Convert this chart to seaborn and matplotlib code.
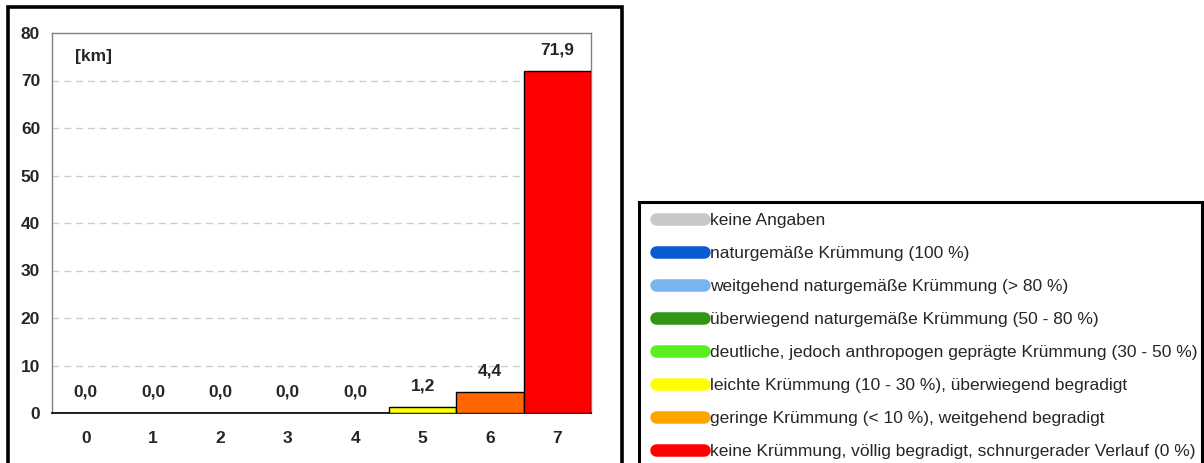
import matplotlib
matplotlib.use("Agg")
import matplotlib.pyplot as plt
import seaborn as sns
import pandas as pd
from matplotlib.lines import Line2D
from matplotlib.patches import Rectangle

# ---- data ----
categories = ["0", "1", "2", "3", "4", "5", "6", "7"]
values = [0.0, 0.0, 0.0, 0.0, 0.0, 1.2, 4.4, 71.9]
value_labels = ["0,0", "0,0", "0,0", "0,0", "0,0", "1,2", "4,4", "71,9"]
bar_colors = ["#C8C8C8", "#0A5AD2", "#78B4F0", "#329614", "#5AF01E", "#FFFF00", "#FF6600", "#FF0000"]
legend_labels = [
    "keine Angaben",
    "naturgemäße Krümmung (100 %)",
    "weitgehend naturgemäße Krümmung (> 80 %)",
    "überwiegend naturgemäße Krümmung (50 - 80 %)",
    "deutliche, jedoch anthropogen geprägte Krümmung (30 - 50 %)",
    "leichte Krümmung (10 - 30 %), überwiegend begradigt",
    "geringe Krümmung (< 10 %), weitgehend begradigt",
    "keine Krümmung, völlig begradigt, schnurgerader Verlauf (0 %)",
]
legend_colors = ["#C8C8C8", "#0A5AD2", "#78B4F0", "#329614", "#5AF01E", "#FFFF00", "#FFA500", "#FF0000"]
y_ticks = [0, 10, 20, 30, 40, 50, 60, 70, 80]
unit_label = "[km]"

df = pd.DataFrame({"cat": categories, "val": values})

sns.set_style("white")
plt.rcParams["font.family"] = ["Liberation Sans", "DejaVu Sans"]

W, H = 1204, 463
fig = plt.figure(figsize=(W / 100, H / 100), dpi=100)

def fx(px):
    return px / W

def fy(py):
    return 1 - py / H

# chart panel border
fig.patches.append(Rectangle((fx(7.5), fy(470)), fx(621.5) - fx(7.5), fy(6.5) - fy(470),
                             transform=fig.transFigure, fill=False, edgecolor="black",
                             linewidth=2.6, zorder=0))
# legend panel border
fig.patches.append(Rectangle((fx(638.5), fy(470)), fx(1201.5) - fx(638.5), fy(202) - fy(470),
                             transform=fig.transFigure, fill=False, edgecolor="black",
                             linewidth=2.2, zorder=0))

FS = 12.5

ax = fig.add_axes([fx(52), fy(413), fx(591) - fx(52), fy(33) - fy(413)])
sns.barplot(data=df, x="cat", y="val", hue="cat", palette=bar_colors, width=1.0,
            saturation=1, edgecolor="black", linewidth=1.0, legend=False, ax=ax, zorder=3)
ax.set_xlim(-0.5, 7.5)
ax.set_ylim(0, 80)
ax.set_yticks(y_ticks)
ax.set_yticklabels([str(t) for t in y_ticks], fontsize=FS, fontweight="bold")
ax.set_xticklabels(categories, fontsize=FS, fontweight="bold")
ax.tick_params(axis="both", length=0)
ax.tick_params(axis="x", pad=13)
ax.tick_params(axis="y", pad=8.5)
ax.set_xlabel("")
ax.set_ylabel("")
for t in y_ticks[1:-1]:
    ax.axhline(t, color="#CCCCCC", linestyle=(0, (5, 3.5)), linewidth=1.0, zorder=1)
for name in ["top", "right", "left"]:
    ax.spines[name].set_color("#808080")
    ax.spines[name].set_linewidth(1.0)
ax.spines["bottom"].set_color("black")
ax.spines["bottom"].set_linewidth(1.2)

for i, (v, lab) in enumerate(zip(values, value_labels)):
    ax.annotate(lab, xy=(i, v), xytext=(0, 10), textcoords="offset points",
                ha="center", va="bottom", fontsize=FS, fontweight="bold")

ax.text(0.042, 0.939, unit_label, transform=ax.transAxes, fontsize=FS, fontweight="bold",
        ha="left", va="center")

# legend
handles = [Line2D([0], [0], color=c, linewidth=9, solid_capstyle="round") for c in legend_colors]
fig.legend(handles, legend_labels, loc="upper left", bbox_to_anchor=(fx(655.5), fy(213)),
           frameon=False, fontsize=FS, handlelength=2.8, handletextpad=0.35,
           labelspacing=1.025, borderaxespad=0, borderpad=0)

fig.savefig("out.png", dpi=100)
